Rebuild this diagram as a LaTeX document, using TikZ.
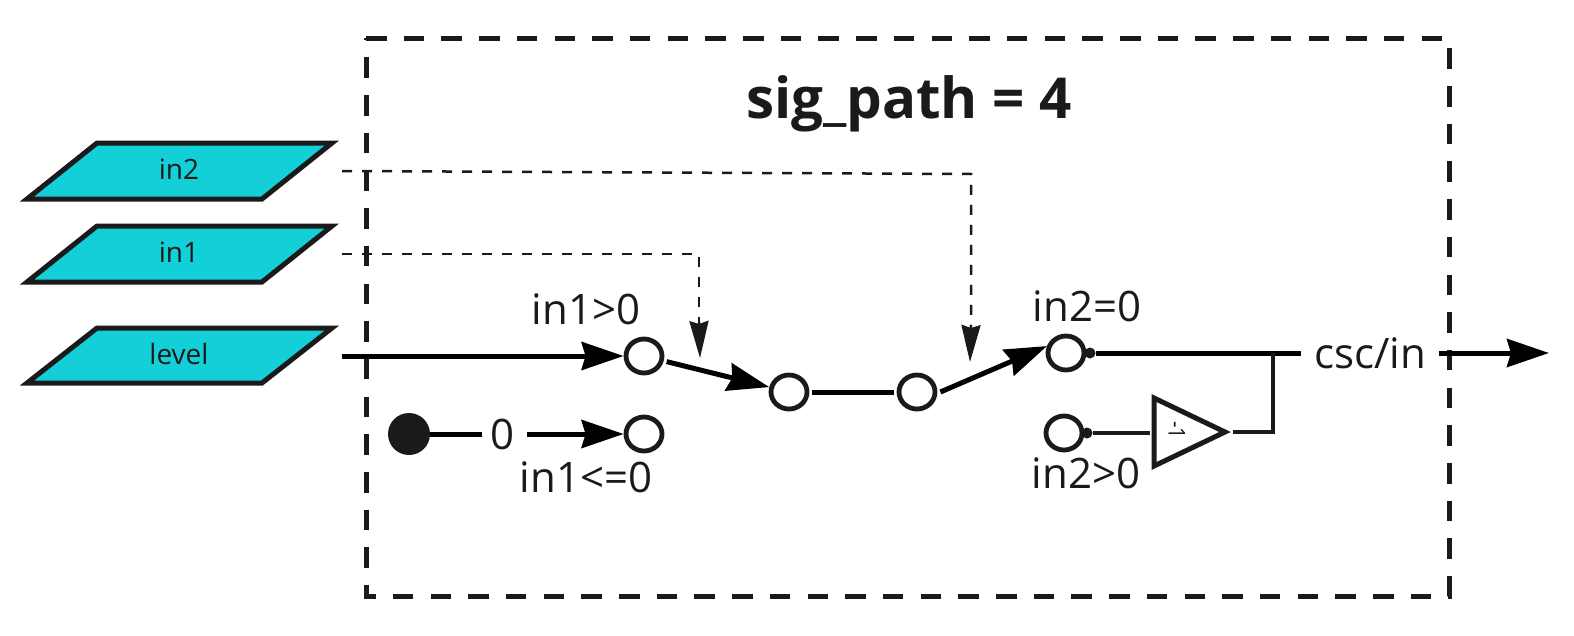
\documentclass[tikz,border=0pt]{standalone}
\usepackage{fontspec}
\setmainfont{Open Sans}
\usetikzlibrary{arrows.meta,shapes.geometric,calc}
\definecolor{ink}{HTML}{1A1A1A}
\definecolor{cyanfill}{HTML}{12CFD8}
\tikzset{
  x=1pt,y=-1pt,
  para/.style={draw=ink,fill=cyanfill,line width=5pt,line join=miter},
  paralabel/.style={inner sep=0pt,outer sep=0pt,minimum width=326pt,minimum height=40pt,font=\fontsize{28}{32}\selectfont,text=ink},
  sw/.style={ellipse,draw=ink,fill=white,line width=4.8pt,minimum width=36pt,minimum height=34pt,inner sep=0pt},
  lab/.style={inner sep=0pt,font=\fontsize{42}{48}\selectfont,text=ink},
  wire/.style={draw=black,line width=5pt},
  thinwire/.style={draw=ink,line width=4.5pt},
  bigtip/.style={-{Stealth[length=42pt,width=28pt,inset=4pt]}},
  dashwire/.style={draw=ink,line width=2.5pt,dash pattern=on 10pt off 10pt},
  dashtip/.style={draw=ink,line width=2.5pt,-{Stealth[length=37pt,width=19pt,inset=3pt]}},
  boxline/.style={draw=ink,line width=5pt,dash pattern=on 20.5pt off 17.2pt},
  pin/.style={circle,fill=ink,inner sep=0pt,minimum size=11pt},
  ampshape/.style={draw=ink,line width=5pt,fill=white,line join=miter},
}
\begin{document}
\begin{tikzpicture}
\useasboundingbox (0,0) rectangle (1574,635);
% frame
\draw[boxline] (366,38) -- (1449,38) -- (1449,596) -- (366,596) -- cycle;
\node[inner sep=0pt,font=\bfseries\fontsize{56.5}{64}\selectfont,text=ink] (title) at (909,104) {sig\_path = 4};
% parallelograms
\draw[para] (97,143) -- (332,143) -- (262,199) -- (27,199) -- cycle;
\draw[para] (97,226) -- (332,226) -- (262,282) -- (27,282) -- cycle;
\draw[para] (97,328) -- (332,328) -- (262,383) -- (27,383) -- cycle;
\node[paralabel] (in2) at (179,171) {\raisebox{4pt}{in2}};
\node[paralabel] (in1) at (179,254) {\raisebox{3pt}{in1}};
\node[paralabel] (level) at (179,356) {\raisebox{4pt}{level}};
% switches
\node[sw] (c1) at (644,356) {};
\node[sw] (c2) at (644,434) {};
\node[sw] (c3) at (789,392) {};
\node[sw] (c4) at (917,392) {};
\node[sw] (c5) at (1066,353) {};
\node[sw] (c6) at (1064,433) {};
\node[circle,fill=ink,inner sep=0pt,minimum size=42pt] (src) at (409,434) {};
\node[lab] (zero) at (503,434) {0};
\node[lab] (t1) at (586,309) {in1>0};
\node[lab] (t2) at (586,477) {in1<=0};
\node[lab] (t3) at (1087,306) {in2=0};
\node[lab] (t4) at (1086,473) {in2>0};
\node[lab] (out) at (1370,353) {csc/in};
% amplifier
\draw[ampshape] (1154,398) -- (1225,432) -- (1154,466) -- cycle;
\coordinate (ampin) at (1150,432);
\coordinate (ampout) at (1233,432);
\node[rotate=-90,inner sep=0pt,font=\fontsize{16}{18}\selectfont,text=ink] (gain) at (1177,430) {\scalebox{1.25}[1.45]{-1}};
\coordinate (outend) at (1549,353);
\coordinate (join) at (1273,353);
\coordinate (wend) at (1301,353);
\coordinate (os) at (1439,353);
\coordinate (zs) at (527,434);
\coordinate (ze) at (482,434);
\node[pin] (p5) at (1090,353) {};
\node[pin] (p6) at (1087,433) {};
% solid connectors
\draw[wire,bigtip] (level.east) -- (c1);
\draw[wire,bigtip,shorten <=3pt] (c1) -- (c3);
\draw[wire,shorten <=3pt,shorten >=3pt] (c3) -- (c4);
\draw[wire,bigtip] ($(c4.east)+(3,0)$) -- (c5.160);
\draw[wire] (src) -- (ze);
\draw[wire,bigtip] (zs) -- (c2);
\draw[wire] (p5) -- (wend);
\draw[thinwire] (p6) -- (ampin |- p6);
\draw[thinwire] (ampout) -| (join);
\draw[wire,bigtip] (os) -- (outend);
% dashed connectors
\coordinate (d1) at (699,254);
\coordinate (d1m) at (699,322);
\coordinate (d1e) at (700,358);
\coordinate (d2) at (971,174);
\coordinate (d2m) at (971,325);
\coordinate (d2e) at (970,362);
\draw[dashwire] (in2.east) -- (d2) -- (d2m);
\draw[dashtip] (d2m) -- (d2e);
\draw[dashwire] (in1.east) -- (d1) -- (d1m);
\draw[dashtip] (d1m) -- (d1e);
\end{tikzpicture}
\end{document}
